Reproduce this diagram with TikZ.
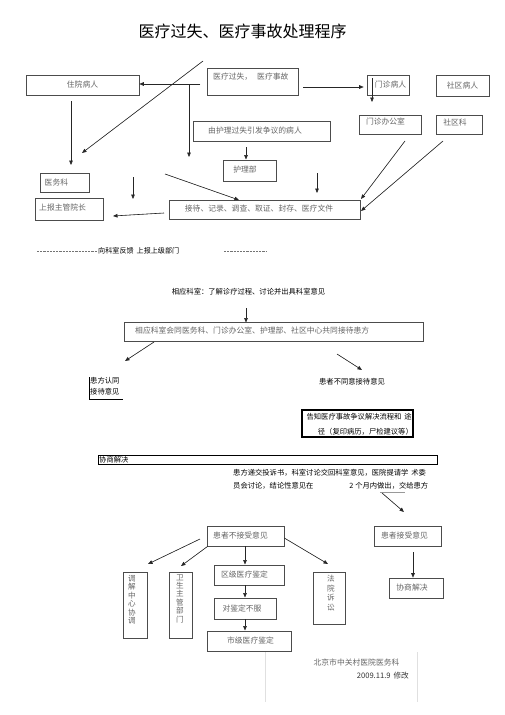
\documentclass[tikz,border=0pt]{standalone}
\usepackage{fontspec}
\setmainfont{Noto Sans CJK SC}
\usetikzlibrary{arrows.meta}
\begin{document}
\begin{tikzpicture}[x=1pt,y=-1pt,
 box/.style={draw=black!70, line width=0.6pt, inner sep=0pt, text=black!60, font=\fontsize{7.8}{9}\selectfont},
 hbox/.style={draw=black, line width=1.1pt, inner sep=0pt},
 arr/.style={-{Triangle[length=4.5pt,width=3.6pt]}, line width=0.6pt, draw=black!85, fill=black!85},
 gtext/.style={text=black!60, font=\fontsize{7.8}{9}\selectfont, inner sep=0pt},
 btext/.style={text=black, font=\fontsize{7.3}{9}\selectfont, inner sep=0pt},
 vtext/.style={text=black!60, font=\fontsize{7.6}{8.4}\selectfont, align=center, inner sep=0pt}]
\useasboundingbox[fill=white] (0,0) rectangle (505,715);

% title
\node[inner sep=0pt, font=\fontsize{16}{18}\selectfont] (title) at (242.5,31) {医疗过失、医疗事故处理程序};

% top part boxes
\node[box, minimum width=113, minimum height=20] (zhuyuan) at (82.5,85) {住院病人};
\node[box, minimum width=91, minimum height=27] (yiliao) at (252.5,81.5) {};
\node[gtext, anchor=west] (yiliaot) at (213,77) {医疗过失，\hspace{5pt}医疗事故};
\node[box, minimum width=42, minimum height=20] (menzhen) at (388,85) {\hspace*{5pt}门诊病人};
\node[box, minimum width=53, minimum height=21] (shequ) at (462.5,85.5) {社区病人};
\node[box, minimum width=62, minimum height=19] (mzoffice) at (390,124.5) {};
\node[gtext] (mzofficet) at (385.5,122) {门诊办公室};
\node[box, minimum width=46, minimum height=19] (shequke) at (459,124.5) {};
\node[gtext] (shequket) at (455,122.5) {社区科};
\node[box, minimum width=137, minimum height=20] (huli) at (261.5,131) {};
\node[gtext] (hulit) at (255,131) {由护理过失引发争议的病人};
\node[box, minimum width=53, minimum height=21] (hulibu) at (249.5,170.5) {};
\node[gtext] (hulibut) at (245,170) {护理部};
\node[box, minimum width=49, minimum height=19] (yiwuke) at (64.5,182.5) {};
\node[gtext, anchor=west] (yiwuket) at (44.5,182.5) {医务科};
\node[box, minimum width=68, minimum height=22] (shangbao) at (69,209) {};
\node[gtext, anchor=west] (shangbaot) at (39,208) {上报主管院长};
\node[box, minimum width=191, minimum height=19] (jiedai) at (264.5,209.5) {};
\node[gtext] (jiedait) at (259,209) {接待、记录、调查、取证、封存、医疗文件};

% top connectors
\coordinate (d1) at (203,61); \coordinate (d2) at (82,153);
\draw[arr] (d1) -- (d2);
\coordinate (y1) at (200,84);
\draw[arr] (y1) -- (zhuyuan.east |- y1);
\coordinate (v1) at (189,84); \coordinate (v2) at (189,157);
\draw[arr] (v1) -- (v2);
\coordinate (r1) at (303,87);
\draw[arr] (r1) -- ([xshift=-3pt]menzhen.west |- r1);
\coordinate (m1) at (372,78); \coordinate (m2) at (372,102);
\draw[arr] (m1) -- (m2);
\draw[arr] (huli.south -| 246,0) ++(0,6) -- (246,159.5);
\coordinate (z1) at (71,101); \coordinate (z2) at (71,165);
\draw[arr] (z1) -- (z2);
\coordinate (f1) at (133,177); \coordinate (f2) at (133,199);
\draw[arr] (f1) -- (f2);
\coordinate (g1) at (165,174); \coordinate (g2) at (239,200);
\draw[arr] (g1) -- (g2);
\coordinate (h1) at (317,173); \coordinate (h2) at (317,193);
\draw[arr] (h1) -- (h2);
\coordinate (j1) at (164,213); \coordinate (j2) at (113,216);
\draw[arr] (j1) -- (j2);
\coordinate (o1) at (405,141); \coordinate (o2) at (361,199);
\draw[arr] (o1) -- (o2);
\coordinate (s1) at (443,141); \coordinate (s2) at (361,211);
\draw[arr] (s1) -- (s2);

% feedback line
\coordinate (k1) at (37,251); \coordinate (k2) at (97,251);
\draw[black!55, line width=0.5pt, dash pattern=on 2.2pt off 1pt] (k1) -- (k2);
\node[btext, anchor=west, font=\fontsize{7.1}{9}\selectfont] (fankui) at (98,251) {向科室反馈\hspace{3pt}上报上级部门};
\coordinate (k3) at (224,251); \coordinate (k4) at (266,251);
\draw[black!55, line width=0.5pt, dash pattern=on 2.2pt off 1pt] (k3) -- (k4);

% middle part
\node[btext] (keshi) at (248.5,292) {相应科室：了解诊疗过程、讨论并出具科室意见};
\coordinate (a1) at (246,308);
\draw[arr] (a1) -- ([yshift=-0.5pt]a1 |- 0,322);
\node[box, minimum width=299, minimum height=19] (huitong) at (273.5,331.5) {};
\node[gtext, anchor=west] (huitongt) at (135,331) {相应科室会同医务科、门诊办公室、护理部、社区中心共同接待患方};
\coordinate (b1) at (154,342); \coordinate (b2) at (125,361);
\draw[arr] (b1) -- (b2);
\coordinate (c1) at (337,354); \coordinate (c2) at (362,370);
\draw[arr] (c1) -- (c2);

\node[btext, align=left, anchor=north west, font=\fontsize{7.3}{11}\selectfont] (rentong) at (90,377.5) {患方认同\\接待意见};
\coordinate (e1) at (89,377); \coordinate (e2) at (89,399); \coordinate (e3) at (123,399);
\draw[black, line width=0.9pt] (e1) -- (e2) -- (e3);
\node[btext] (butongyi) at (352,382) {患者不同意接待意见};

\node[hbox, minimum width=111, minimum height=27] (gaozhi) at (357.5,423.5) {};
\node[btext, anchor=east] (gaozhit1) at (412,417) {告知医疗事故争议解决流程和\hspace{3pt}途};
\node[btext, anchor=east] (gaozhit2) at (413,432) {径（复印病历，尸检建议等）};

\node[hbox, line width=1pt, minimum width=339, minimum height=9] (xieshang) at (267.5,459.5) {};
\node[btext, anchor=west] (xieshangt) at (99,459.5) {协商解决};

\node[btext, anchor=west] (tousu1) at (233,473) {患方递交投诉书，科室讨论交回科室意见，医院提请学\hspace{3pt}术委};
\node[btext, anchor=west] (tousu2) at (233,486) {员会讨论，结论性意见在};
\node[btext, anchor=east] (tousu3) at (428.5,486) {2\hspace{2pt}个月内做出，交给患方};
\coordinate (t1) at (380,492); \coordinate (t2) at (405,492);
\draw[black!40, line width=0.5pt] (t1) -- (t2);
\coordinate (t3) at (382,493); \coordinate (t4) at (404,512);
\draw[arr] (t3) -- (t4);

% bottom part
\node[box, minimum width=77, minimum height=20] (bujieshou) at (245.5,536) {\hspace*{-10pt}患者不接受意见};
\node[box, minimum width=67, minimum height=20] (jieshou) at (407.5,536) {\hspace*{-6pt}患者接受意见};

\node[box, minimum width=24, minimum height=66] (tiaojie) at (135,605) {};
\node[vtext, anchor=north] (tiaojiet) at (132,575) {调\\解\\中\\心\\协\\调};
\node[box, minimum width=23, minimum height=66] (weisheng) at (180.5,605) {};
\node[vtext, anchor=north] (weishengt) at (180,574) {卫\\生\\主\\管\\部\\门};
\node[box, minimum width=70, minimum height=20] (quji) at (249,575) {\hspace*{-9pt}区级医疗鉴定};
\node[box, minimum width=62, minimum height=21] (duijianding) at (245,608.5) {\hspace*{-6pt}对鉴定不服};
\node[box, minimum width=84, minimum height=20] (shiji) at (249,641) {\hspace*{3pt}市级医疗鉴定};
\node[box, minimum width=32, minimum height=52] (fayuan) at (329,598) {};
\node[vtext, anchor=north, font=\fontsize{7.6}{9.6}\selectfont] (fayuant) at (331,575) {法\\院\\诉\\讼};
\node[box, minimum width=54, minimum height=20] (xieshang2) at (416,588) {\hspace*{-8pt}协商解决};

\coordinate (p1) at (200,539); \coordinate (p2) at (148,564);
\draw[arr] (p1) -- (p2);
\coordinate (q2) at (181,566);
\draw[arr] ([xshift=1pt]bujieshou.south west) -- (q2);
\draw[arr] (bujieshou.south -| 245,0) -- (245,564.5);
\coordinate (w2) at (328,564);
\draw[arr] ([yshift=-2pt]bujieshou.east) -- (w2);
\draw[arr] (quji.south -| 245,0) -- (245,597.5);
\draw[arr] (duijianding.south) -- (245,630.5);
\coordinate (n1) at (413,552);
\draw[arr] (n1) -- (xieshang2.north -| n1);

% signature
\coordinate (sg1) at (265,652); \coordinate (sg2) at (265,702);
\coordinate (sg3) at (417,652); \coordinate (sg4) at (417,702);
\draw[black!12, line width=0.6pt] (sg1) -- (sg2) (sg3) -- (sg4);
\node[gtext] (sign1) at (356.5,663) {北京市中关村医院医务科};
\node[btext, anchor=east, text=black!80, font=\fontsize{7.6}{9}\selectfont] (sign2) at (409,676) {2009.11.9\hspace{3pt}修改};
\end{tikzpicture}
\end{document}
